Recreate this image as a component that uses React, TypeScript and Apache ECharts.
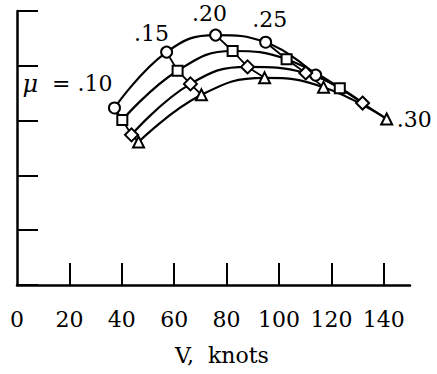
import React, { useEffect, useRef } from "react";
import * as echarts from "echarts";

// Tick labels and values
const xTickLabels = [0, 20, 40, 60, 80, 100, 120, 140];
const xMinorTicks = [20, 40, 60, 80, 100, 120, 140];
const muLabels = [".10", ".15", ".20", ".25", ".30"];

// Speed (knots) and relative ordinate for each curve, one point per mu
const circleV = [37.2, 57.1, 75.8, 94.9, 114.0];
const circleY = [3.23, 4.25, 4.56, 4.43, 3.83];
const squareV = [40.2, 61.3, 82.3, 102.9, 123.2];
const squareY = [3.01, 3.91, 4.27, 4.12, 3.59];
const diamondV = [43.7, 66.2, 88.0, 110.2, 131.9];
const diamondY = [2.74, 3.67, 3.98, 3.87, 3.32];
const triangleV = [46.4, 70.4, 94.5, 117.0, 141.1];
const triangleY = [2.61, 3.47, 3.78, 3.61, 3.03];

const FONT = "DejaVu Serif";

export default function App() {
  const ref = useRef<HTMLDivElement>(null);
  useEffect(() => {
    if (!ref.current) return;
    const chart = echarts.init(ref.current, undefined, { renderer: "svg" });

    const curves = [
      { v: circleV, y: circleY, symbol: "circle", size: 11 },
      { v: squareV, y: squareY, symbol: "rect", size: 10 },
      { v: diamondV, y: diamondY, symbol: "diamond", size: 13 },
      { v: triangleV, y: triangleY, symbol: "triangle", size: 11 },
    ];

    const labelStyle = {
      color: "#000",
      fontFamily: FONT,
      fontSize: 22,
    };
    // label offsets relative to the marker centre
    const circleLabelOffsets: [number, number][] = [
      [-2, -24],
      [-15, -19],
      [-6, -22],
      [4, -23],
    ];

    const curveSeries = curves.map((c, ci) => ({
      type: "line",
      z: 3,
      smooth: 0.45,
      symbol: c.symbol,
      symbolSize: c.size,
      showAllSymbol: true,
      lineStyle: { color: "#000", width: 2.2 },
      itemStyle: { color: "#fff", borderColor: "#000", borderWidth: 2 },
      emphasis: { disabled: true },
      data: c.v.map((v, i) => {
        const item: any = { value: [v, c.y[i]] };
        if (ci === 0 && i < 4) {
          item.label = {
            show: true,
            position: "inside",
            align: i === 0 ? "right" : "center",
            verticalAlign: "middle",
            offset: circleLabelOffsets[i],
            formatter: i === 0 ? "{m|μ}  = " + muLabels[i] : muLabels[i],
            rich: {
              m: { fontFamily: FONT, fontStyle: "italic", fontSize: 24, color: "#000" },
            },
            ...labelStyle,
          };
        }
        if (ci === 3 && i === 4) {
          item.label = {
            show: true,
            position: "inside",
            align: "left",
            verticalAlign: "middle",
            offset: [10, 1],
            formatter: muLabels[4],
            ...labelStyle,
          };
        }
        return item;
      }),
    }));

    const crossSeries = muLabels.map((_, i) => ({
      type: "line",
      z: 2,
      symbol: "none",
      lineStyle: { color: "#000", width: 1.8 },
      emphasis: { disabled: true },
      data: curves.map((c) => [c.v[i], c.y[i]]),
    }));

    chart.setOption({
      animation: false,
      grid: { left: 17, right: 27, top: 11, bottom: 89 },
      xAxis: {
        type: "value",
        min: 0,
        max: 150,
        interval: 10,
        axisLine: { show: true, lineStyle: { color: "#000", width: 2.5 } },
        axisTick: {
          show: true,
          inside: true,
          length: 22,
          customValues: xMinorTicks,
          lineStyle: { color: "#000", width: 2 },
        },
        axisLabel: {
          show: true,
          customValues: xTickLabels,
          margin: 23,
          color: "#000",
          fontFamily: FONT,
          fontSize: 22,
        },
        splitLine: { show: false },
      },
      yAxis: {
        type: "value",
        min: 0,
        max: 5,
        interval: 1,
        axisLine: { show: true, lineStyle: { color: "#000", width: 2.5 } },
        axisTick: {
          show: true,
          inside: true,
          length: 21,
          lineStyle: { color: "#000", width: 2 },
        },
        axisLabel: { show: false },
        splitLine: { show: false },
      },
      graphic: [
        {
          type: "text",
          left: 175,
          top: 344,
          style: { text: "V,  knots", fill: "#000", font: `22px '${FONT}'` },
        },
      ],
      series: [...crossSeries, ...curveSeries],
    });
    return () => chart.dispose();
  }, []);
  return (
    <div
      ref={ref}
      style={{ position: "fixed", left: 0, top: 0, width: 437, height: 374, background: "#fff" }}
    />
  );
}
